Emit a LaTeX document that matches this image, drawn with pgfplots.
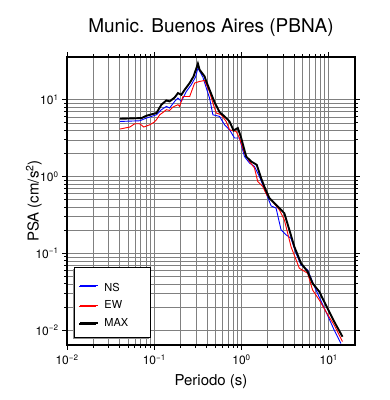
\documentclass[border=0pt]{standalone}
\usepackage{fontspec}
\setmainfont{TeX Gyre Heros}
\usepackage{pgfplots}
\pgfplotsset{compat=1.18}
\usetikzlibrary{shadows}

\pgfplotstableread{
x y
0.0403 5.21
0.0682 5.32
0.0815 5.77
0.106 6.37
0.1207 7.41
0.1377 8.18
0.150 7.80
0.1714 9.50
0.187 10.5
0.2047 9.50
0.2333 12.8
0.266 15.7
0.2978 19.8
0.3167 25.9
0.3614 19.6
0.3953 14.2
0.4305 10.5
0.47 6.37
0.561 6.06
0.640 4.72
0.730 4.06
0.832 3.17
0.948 3.17
1.082 1.82
1.234 1.50
1.409 1.35
1.606 1.0
1.999 0.536
2.184 0.415
2.493 0.387
2.842 0.202
3.243 0.174
3.697 0.157
4.218 0.100
4.81 0.0706
5.73 0.0608
7.14 0.0333
9.29 0.0174
11.56 0.010
13.78 0.0067
}\nsdata

\pgfplotstableread{
x y
0.0403 4.15
0.0525 4.41
0.0598 4.87
0.0682 4.87
0.0759 4.41
0.0889 4.72
0.0986 5.06
0.106 5.49
0.1156 6.37
0.126 6.83
0.1377 7.41
0.150 7.25
0.164 8.03
0.187 8.61
0.195 8.18
0.2133 11.0
0.2547 11.0
0.2904 16.5
0.331 17.3
0.3776 17.8
0.4305 12.7
0.47 9.06
0.514 6.71
0.586 6.37
0.668 5.21
0.730 4.06
0.869 3.86
0.948 3.17
1.082 2.02
1.234 1.57
1.409 1.29
1.535 0.861
1.751 0.741
1.945 0.577
2.279 0.472
2.718 0.368
3.099 0.272
3.697 0.122
4.60 0.064
5.73 0.055
6.53 0.0333
7.79 0.0247
9.29 0.0174
11.56 0.0116
14.38 0.0071
}\ewdata

\pgfplotstableread{
x y
0.0403 5.65
0.0715 5.77
0.0815 6.19
0.106 6.71
0.1207 8.61
0.1377 9.79
0.150 9.50
0.1714 10.7
0.187 12.2
0.2047 11.6
0.2234 13.5
0.2547 16.5
0.2823 20.1
0.3167 29.5
0.331 24.6
0.3776 20.1
0.3953 17.3
0.4305 13.5
0.491 9.28
0.561 6.87
0.640 6.06
0.730 5.21
0.811 3.98
0.908 4.28
0.993 3.17
1.132 1.82
1.291 1.57
1.496 1.42
1.679 0.953
1.832 0.734
2.089 0.523
2.383 0.450
2.718 0.387
3.099 0.333
3.535 0.202
4.035 0.122
4.81 0.0743
5.73 0.0577
6.53 0.0407
7.79 0.0317
9.29 0.0212
11.56 0.0129
14.38 0.0082
}\maxdata

\begin{document}
\begin{tikzpicture}
\useasboundingbox (-67pt,-55pt) rectangle (323pt,345pt);
\begin{loglogaxis}[
  at={(0pt,0pt)}, anchor=south west,
  scale only axis, width=288pt, height=288pt,
  xmin=0.01, xmax=20, ymin=0.0064, ymax=36,
  xtick={0.01,0.1,1,10},
  xticklabels={10\textsuperscript{−2},10\textsuperscript{−1},10\textsuperscript{0},10\textsuperscript{1}},
  ytick={0.01,0.1,1,10},
  yticklabels={10\textsuperscript{−2},10\textsuperscript{−1},10\textsuperscript{0},10\textsuperscript{1}},
  tick label style={font=\fontsize{12}{14}\selectfont},
  xticklabel style={yshift=-1pt},
  grid=both,
  major grid style={black!50, line width=0.55pt},
  minor grid style={black!50, line width=0.5pt},
  axis line style={line width=1.6pt},
  tick style={black, line width=0.8pt},
  tick align=outside,
  major tick length=5pt, minor tick length=3pt,
  title={Munic. Buenos Aires (PBNA)},
  title style={at={(axis description cs:0.5,1.083)}, anchor=center, font=\fontsize{19}{22}\selectfont},
  xlabel={Periodo (s)},
  xlabel style={at={(axis description cs:0.5,-0.127)}, anchor=center, font=\fontsize{15}{17}\selectfont},
  ylabel={PSA (cm/s\textsuperscript{2})},
  ylabel style={at={(axis description cs:-0.115,0.5)}, anchor=center, rotate=0, font=\fontsize{15}{17}\selectfont},
  legend cell align=left,
  legend style={at={(axis description cs:0.0243,0.0243)}, anchor=south west,
    draw=black, line width=1pt, fill=white,
    drop shadow={shadow xshift=-1.5pt, shadow yshift=-1.5pt, fill=black!45, opacity=1},
    font=\fontsize{11}{13}\selectfont,
    inner xsep=5pt, inner ysep=8pt, row sep=3.8pt, column sep=4pt},
]
\addplot[blue, line width=0.9pt] table {\nsdata};
\addlegendentry{\rule{0pt}{14pt}\makebox[39pt][l]{NS}}
\addplot[red, line width=0.9pt] table {\ewdata};
\addlegendentry{\makebox[39pt][l]{EW}}
\addplot[black, line width=1.9pt] table {\maxdata};
\addlegendentry{\makebox[39pt][l]{MAX}}
\end{loglogaxis}
\end{tikzpicture}
\end{document}
